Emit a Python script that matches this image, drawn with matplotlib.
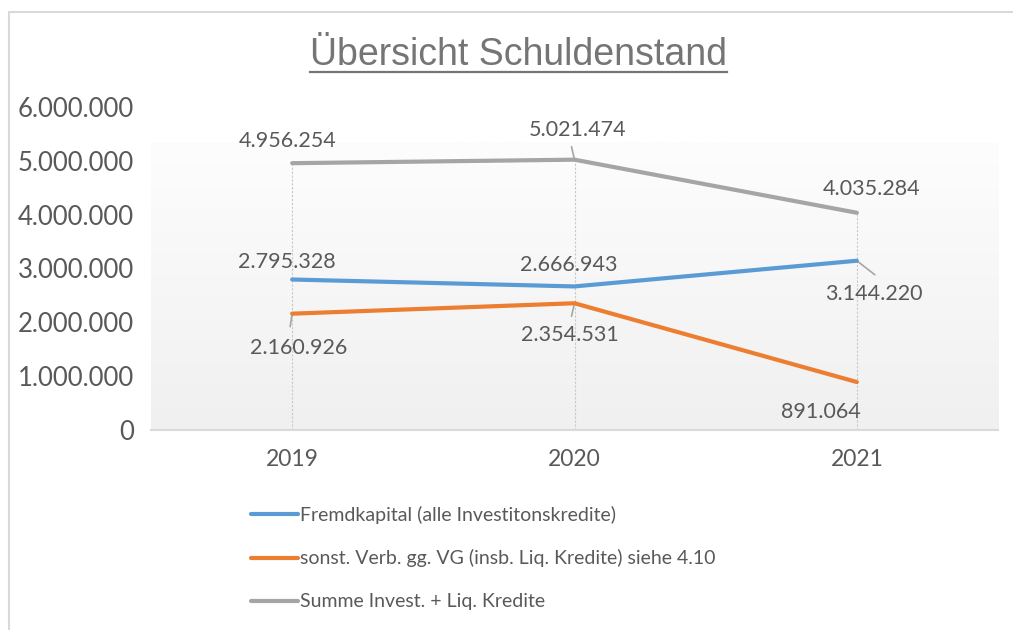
import numpy as np
import matplotlib
matplotlib.use("Agg")
import matplotlib.pyplot as plt
from matplotlib.ticker import FuncFormatter
from matplotlib.patches import Rectangle
from matplotlib.lines import Line2D

years = ["2019", "2020", "2021"]
fremdkapital = [2795328, 2666943, 3144220]
sonst_verb = [2160926, 2354531, 891064]
summe = [4956254, 5021474, 4035284]
labels = [
    "Fremdkapital (alle Investitonskredite)",
    "sonst. Verb. gg. VG (insb. Liq. Kredite) siehe 4.10",
    "Summe Invest. + Liq. Kredite",
]
title = "Übersicht Schuldenstand"

COLORS = ["#5B9BD5", "#ED7D31", "#A5A5A5"]
TXT = "#595959"
FONT = "Lato"

def de_fmt(v, pos=None):
    return "{:,.0f}".format(v).replace(",", ".")

W, H = 1013, 630
fig = plt.figure(figsize=(W / 100, H / 100), dpi=100)
fig.patch.set_facecolor("white")

# chart area border
fig.patches.append(Rectangle((9 / W, -0.1), 1.2, (H - 12) / H + 0.1,
                             transform=fig.transFigure, fill=False,
                             edgecolor="#d9d9d9", linewidth=1.5))

ax = fig.add_axes([151 / W, 1 - 430 / H, (998 - 151) / W, (430 - 107) / H])
ax.set_facecolor("none")
x = np.arange(len(years))

# gradient plot area
grad = np.linspace(0, 1, 256).reshape(-1, 1)
ax.imshow(grad, extent=[0, 1, 0, 0.889], transform=ax.transAxes,
          cmap=matplotlib.colors.LinearSegmentedColormap.from_list(
              "g", ["#f0f0f0", "#fdfdfd"]),
          origin="lower", aspect="auto", zorder=0)

# drop lines
tops = np.max([fremdkapital, sonst_verb, summe], axis=0)
for xi, t in zip(x, tops):
    ax.plot([xi, xi], [0, t], color="#c8c8c8", linestyle=(0, (2, 1.5)),
            linewidth=0.8, zorder=1)

series = [fremdkapital, sonst_verb, summe]
for vals, col, lab in zip(series, COLORS, labels):
    ax.plot(x, vals, color=col, linewidth=3, label=lab,
            solid_capstyle="round", zorder=3)

# data labels: text offset (dx, dy) and leader line end offset, in pixels
offsets = [
    [(-5, 18, None), (-6, 21, None), (17, -33, (18, -14))],
    [(6, -34, (-2, -13)), (-5, -32, (-3, -13)), (-36, -30, None)],
    [(-5, 22, None), (3, 30, (-3, 13)), (15, 24, None)],
]
for vals, offs in zip(series, offsets):
    for xi, v, (dx, dy, lead) in zip(x, vals, offs):
        ax.annotate(de_fmt(v), (xi, v), xytext=(dx, dy),
                    textcoords="offset pixels", ha="center", va="center",
                    fontsize=15.5, color=TXT, family=FONT, zorder=4)
        if lead:
            ax.annotate("", (xi, v), xytext=lead,
                        textcoords="offset pixels",
                        arrowprops=dict(arrowstyle="-", color="#a6a6a6",
                                        linewidth=1.2, shrinkA=0, shrinkB=0),
                        zorder=2)

ax.set_xlim(-0.5, 2.5)
ax.set_ylim(0, 6000000)
ax.set_yticks(np.arange(0, 6000001, 1000000))
ax.yaxis.set_major_formatter(FuncFormatter(de_fmt))
ax.set_xticks(x)
ax.set_xticklabels(years)
for s in ["top", "right", "left"]:
    ax.spines[s].set_visible(False)
ax.spines["bottom"].set_color("#d9d9d9")
ax.spines["bottom"].set_linewidth(1.5)
ax.tick_params(length=0, labelcolor=TXT)
ax.tick_params(axis="y", pad=12, labelsize=18.5)
ax.tick_params(axis="x", pad=14, labelsize=16.5)
for t in ax.get_xticklabels() + ax.get_yticklabels():
    t.set_family(FONT)

# legend
leg = fig.legend(loc="upper left", bbox_to_anchor=(233 / W, 1 - 488 / H),
                 frameon=False, prop={"family": FONT, "size": 14},
                 handlelength=2.45, handletextpad=0.1, labelspacing=1.33,
                 labelcolor=TXT)

# title with underline
tt = fig.text(518 / W, 1 - 55 / H, title, ha="center", va="center",
              fontsize=27, color="#757575", family="Liberation Sans")
fig.canvas.draw()
bb = tt.get_window_extent(fig.canvas.get_renderer())
uy = (H - 72) / H
fig.lines.append(Line2D([bb.x0 / W, bb.x1 / W], [uy, uy],
                        transform=fig.transFigure, color="#757575",
                        linewidth=1.6))

fig.savefig("out.png", dpi=100)
